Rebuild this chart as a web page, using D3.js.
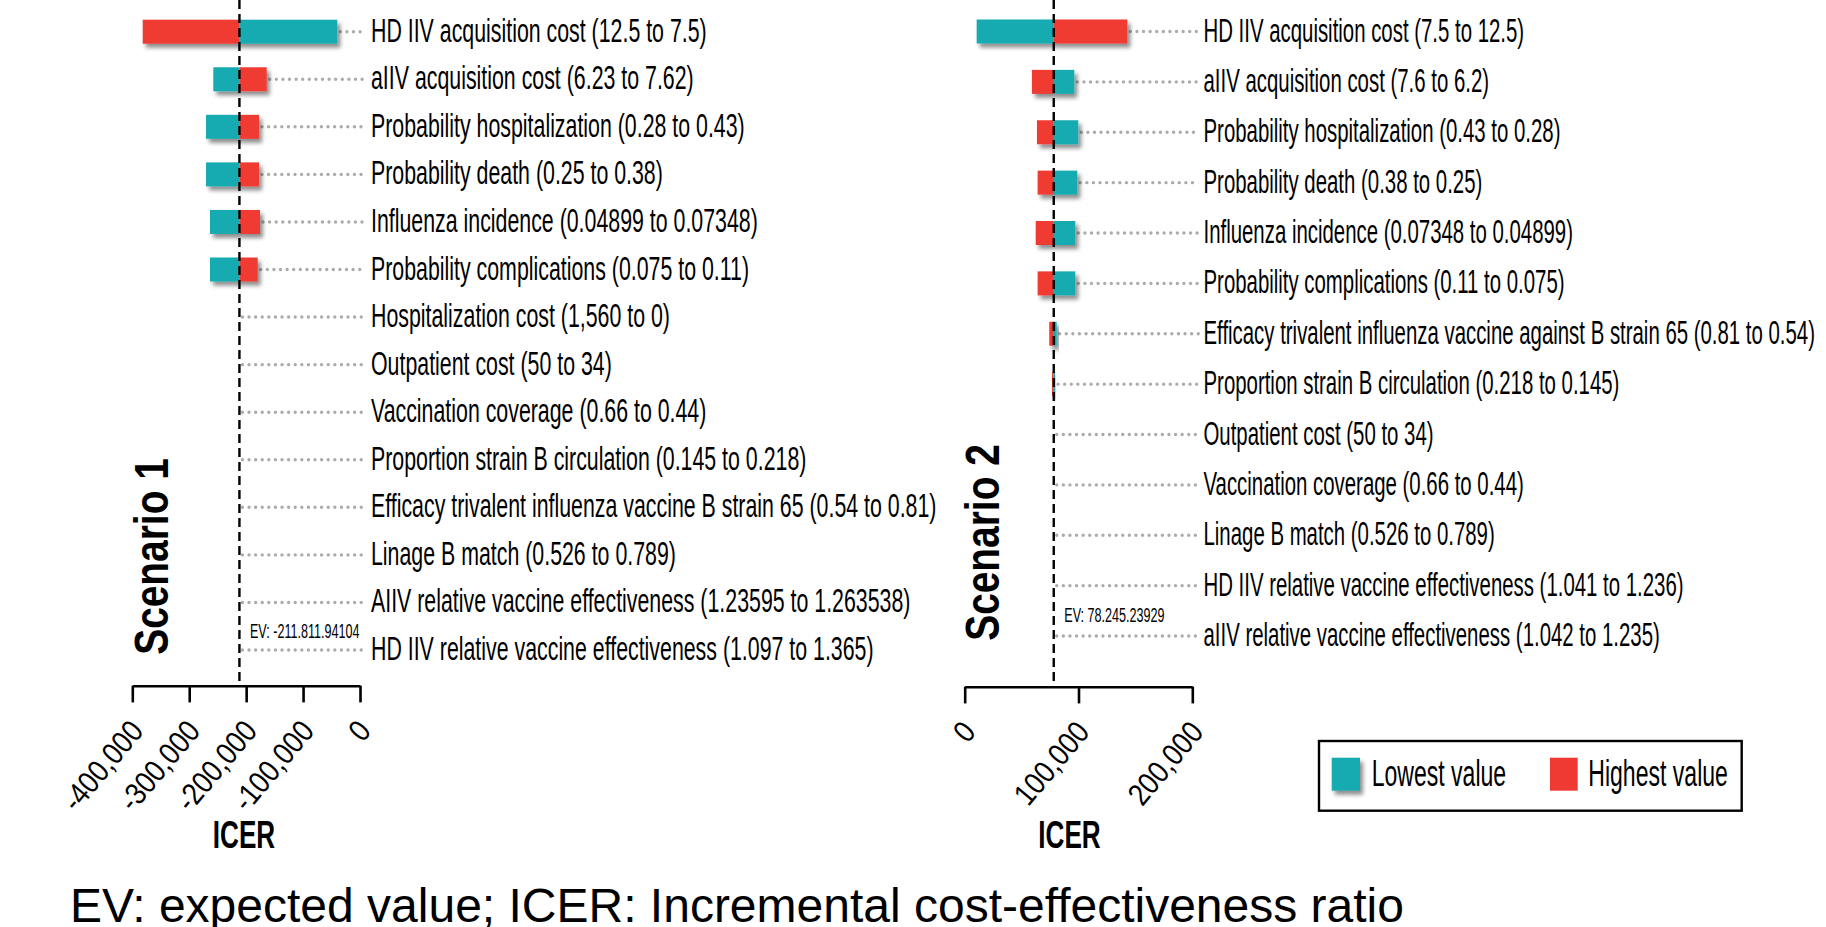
<!DOCTYPE html>
<html>
<head>
<meta charset="utf-8">
<script src="https://cdn.jsdelivr.net/npm/d3@7"></script>
<style>
  html, body { margin: 0; padding: 0; background: #fff; }
  svg { display: block; }
  text { font-family: "Liberation Sans", Arial, sans-serif; fill: #000; }
</style>
</head>
<body>
<svg id="chart" width="1826" height="927"></svg>
<script>
// ---- Scenario 1: one-way sensitivity (tornado) ----
const s1EV = -211811.94104;
const s1Params = [
  "HD IIV acquisition cost (12.5 to 7.5)",
  "aIIV acquisition cost (6.23 to 7.62)",
  "Probability hospitalization (0.28 to 0.43)",
  "Probability death (0.25 to 0.38)",
  "Influenza incidence (0.04899 to 0.07348)",
  "Probability complications (0.075 to 0.11)",
  "Hospitalization cost (1,560 to 0)",
  "Outpatient cost (50 to 34)",
  "Vaccination coverage (0.66 to 0.44)",
  "Proportion strain B circulation (0.145 to 0.218)",
  "Efficacy trivalent influenza vaccine B strain 65 (0.54 to 0.81)",
  "Linage B match (0.526 to 0.789)",
  "AIIV relative vaccine effectiveness (1.23595 to 1.263538)",
  "HD IIV relative vaccine effectiveness (1.097 to 1.365)"
];
// ICER at the lowest input value
const s1Low = [-39900, -257700, -270500, -270500, -263500, -263500,
  -211811.94104, -211811.94104, -211811.94104, -211811.94104,
  -211811.94104, -211811.94104, -211811.94104, -211811.94104];
// ICER at the highest input value
const s1High = [-381700, -163900, -177400, -177400, -175700, -179700,
  -211811.94104, -211811.94104, -211811.94104, -211811.94104,
  -211811.94104, -211811.94104, -211811.94104, -211811.94104];
const s1Ticks = [-400000, -300000, -200000, -100000, 0];
const s1TickLabels = ["-400,000", "-300,000", "-200,000", "-100,000", "0"];

// ---- Scenario 2 ----
const s2EV = 78245.23929;
const s2Params = [
  "HD IIV acquisition cost (7.5 to 12.5)",
  "aIIV acquisition cost (7.6 to 6.2)",
  "Probability hospitalization (0.43 to 0.28)",
  "Probability death (0.38 to 0.25)",
  "Influenza incidence (0.07348 to 0.04899)",
  "Probability complications (0.11 to 0.075)",
  "Efficacy trivalent influenza vaccine against B strain 65 (0.81 to 0.54)",
  "Proportion strain B circulation (0.218 to 0.145)",
  "Outpatient cost (50 to 34)",
  "Vaccination coverage (0.66 to 0.44)",
  "Linage B match (0.526 to 0.789)",
  "HD IIV relative vaccine effectiveness (1.041 to 1.236)",
  "aIIV relative vaccine effectiveness (1.042 to 1.235)"
];
const s2Low = [10500, 96300, 99800, 98900, 97200, 97200, 80800, 79400,
  78245.23929, 78245.23929, 78245.23929, 78245.23929, 78245.23929];
const s2High = [142900, 59100, 63500, 64100, 62400, 64100, 74300, 76700,
  78245.23929, 78245.23929, 78245.23929, 78245.23929, 78245.23929];
const s2Ticks = [0, 100000, 200000];
const s2TickLabels = ["0", "100,000", "200,000"];

const legendLabels = ["Lowest value", "Highest value"];
const TEAL = "#17abb1";
const RED = "#ef3a33";

const svg = d3.select("#chart");

// soft drop shadow used under the bars
const defs = svg.append("defs");
const f = defs.append("filter").attr("id", "shadow")
  .attr("x", "-30%").attr("y", "-40%").attr("width", "160%").attr("height", "190%");
f.append("feGaussianBlur").attr("in", "SourceAlpha").attr("stdDeviation", 2.2).attr("result", "b");
f.append("feOffset").attr("in", "b").attr("dx", 3).attr("dy", 4).attr("result", "o");
f.append("feComponentTransfer").attr("in", "o").attr("result", "s")
  .append("feFuncA").attr("type", "linear").attr("slope", 0.45);
const m = f.append("feMerge");
m.append("feMergeNode").attr("in", "s");
m.append("feMergeNode").attr("in", "SourceGraphic");

function txt(g, x, y, s, o) {
  return g.append("text")
    .attr("transform", `translate(${x},${y}) rotate(${o.rot || 0}) scale(${o.sx || 1},1)`)
    .attr("font-size", o.size)
    .attr("font-weight", o.bold ? "bold" : "normal")
    .attr("text-anchor", o.anchor || "start")
    .text(s);
}

function panel(cfg) {
  const g = svg.append("g");
  const x = d3.scaleLinear().domain(cfg.domain).range(cfg.xRange);
  const y = d3.scalePoint().domain(d3.range(cfg.params.length)).range(cfg.yRange);
  const evX = x(cfg.ev);
  const barH = 24;

  cfg.params.forEach((p, i) => {
    const cy = y(i);
    const lo = cfg.low[i], hi = cfg.high[i];
    const right = Math.max(evX, x(lo), x(hi));
    // dotted leader to the parameter label
    g.append("line")
      .attr("x1", right + 3).attr("x2", cfg.labelX - 5)
      .attr("y1", cy).attr("y2", cy)
      .attr("stroke", "#ababab").attr("stroke-width", 3.4)
      .attr("stroke-linecap", "round").attr("stroke-dasharray", "0,6.6");

    const bg = g.append("g").attr("filter", "url(#shadow)");
    [[lo, TEAL], [hi, RED]].forEach(([v, c]) => {
      const x0 = Math.min(x(v), evX), x1 = Math.max(x(v), evX);
      if (x1 - x0 < 0.5) return;
      bg.append("rect").attr("x", x0).attr("y", cy - barH / 2)
        .attr("width", x1 - x0).attr("height", barH).attr("fill", c);
    });

    txt(g, cfg.labelX, cy + 10, p, { size: 34, sx: cfg.labelSx });
  });

  // EV reference line, over the bars
  g.append("line")
    .attr("x1", evX).attr("x2", evX).attr("y1", 0).attr("y2", cfg.axisY)
    .attr("stroke", "#000").attr("stroke-width", 2.4).attr("stroke-dasharray", "9,5");

  // EV annotation
  txt(g, evX + 10.5, cfg.evLabelY, cfg.evLabel, { size: 21, sx: 0.6 });

  // axis
  const ax = g.append("g").attr("transform", `translate(0,${cfg.axisY})`)
    .call(d3.axisBottom(x).tickValues(cfg.ticks).tickSize(16.7).tickSizeOuter(0)
      .tickFormat((d, i) => cfg.tickLabels[i]));
  ax.select(".domain").attr("stroke", "#000").attr("stroke-width", 2.6);
  ax.selectAll(".tick line").attr("stroke", "#000").attr("stroke-width", 2.6);
  ax.selectAll(".tick text")
    .attr("x", null).attr("y", null).attr("dy", null)
    .attr("fill", "#000")
    .attr("font-family", "Liberation Sans, Arial, sans-serif")
    .attr("font-size", 31)
    .attr("text-anchor", "end")
    .attr("transform", "translate(12,46) rotate(-50) scale(0.87,1)");

  txt(g, cfg.titleX, 848, "ICER", { size: 39, sx: 0.67, bold: true, anchor: "middle" });

  // scenario caption
  txt(g, cfg.scenX, cfg.scenY, cfg.scen, { size: 48, sx: 0.81, bold: true, rot: -90, anchor: "middle" });
}

panel({
  params: s1Params, low: s1Low, high: s1High, ev: s1EV,
  domain: [-400000, 0], xRange: [132.3, 360], yRange: [31.7, 650],
  axisY: 685.7, ticks: s1Ticks, tickLabels: s1TickLabels,
  labelX: 371, labelSx: 0.628, evLabel: "EV: -211.811.94104", evLabelY: 638,
  titleX: 244, scen: "Scenario 1", scenX: 168, scenY: 556.5
});

panel({
  params: s2Params, low: s2Low, high: s2High, ev: s2EV,
  domain: [0, 200000], xRange: [964.7, 1192.3], yRange: [31.5, 636],
  axisY: 686.7, ticks: s2Ticks, tickLabels: s2TickLabels,
  labelX: 1203.5, labelSx: 0.60, evLabel: "EV: 78.245.23929", evLabelY: 621.5,
  titleX: 1069.5, scen: "Scenario 2", scenX: 999, scenY: 542.5
});

// legend
const lg = svg.append("g");
lg.append("rect").attr("x", 1319).attr("y", 741).attr("width", 422.7).attr("height", 69.7)
  .attr("fill", "#fff").attr("stroke", "#000").attr("stroke-width", 2.4);
lg.append("rect").attr("x", 1331.7).attr("y", 757.7).attr("width", 28.3).attr("height", 33)
  .attr("fill", TEAL).attr("filter", "url(#shadow)");
lg.append("rect").attr("x", 1550).attr("y", 757.7).attr("width", 27.7).attr("height", 33)
  .attr("fill", RED);
txt(lg, 1371.7, 786, legendLabels[0], { size: 36, sx: 0.64 });
txt(lg, 1588.3, 786, legendLabels[1], { size: 36, sx: 0.64 });

// footnote
txt(svg, 70, 922, "EV: expected value; ICER: Incremental cost-effectiveness ratio", { size: 48, sx: 1.0 });
</script>
</body>
</html>
